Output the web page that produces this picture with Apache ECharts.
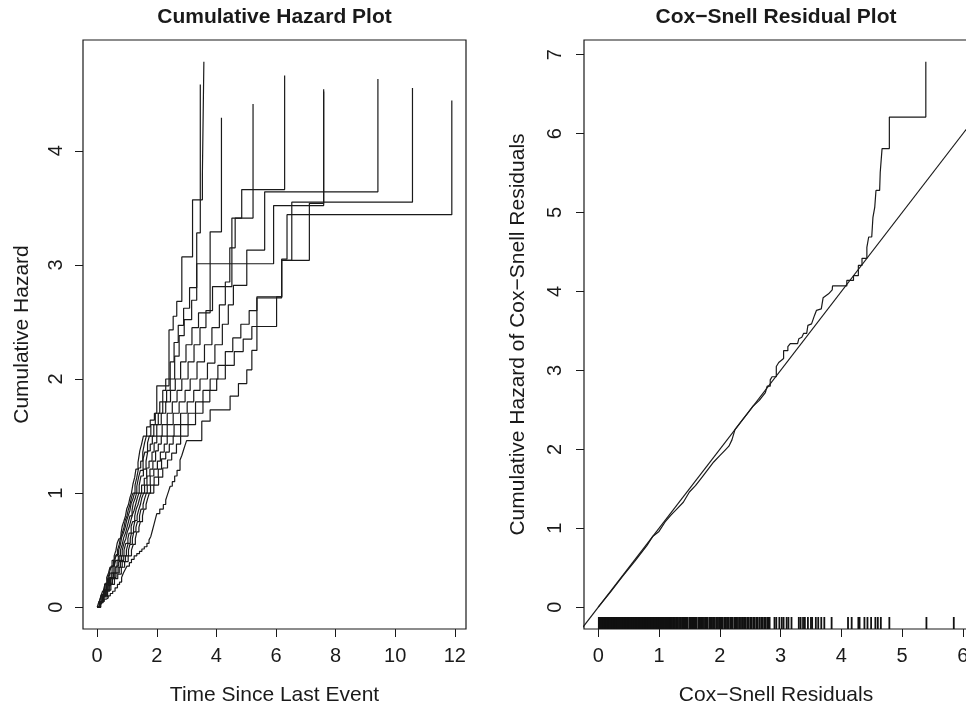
<!DOCTYPE html>
<html><head><meta charset="utf-8">
<script src="https://cdn.jsdelivr.net/npm/echarts@6/dist/echarts.min.js"></script>
<style>html,body{margin:0;padding:0;background:#fff}#c{width:966px;height:707px}</style>
</head><body><div id="c"></div>
<script>
// ---- tick labels ----
const hazXTicks = [0, 2, 4, 6, 8, 10, 12];
const hazYTicks = [0, 1, 2, 3, 4];
const csXTicks = [0, 1, 2, 3, 4, 5, 6];
const csYTicks = [0, 1, 2, 3, 4, 5, 6, 7];

// ---- left panel: cumulative hazard step curves [time, cumulative hazard] ----
const hazCurve1 = [[0,0],[0.06,0.05],[0.13,0.1],[0.18,0.14],[0.25,0.2],[0.32,0.26],[0.38,0.3],[0.43,0.35],[0.5,0.41],[0.57,0.45],[0.63,0.5],[0.67,0.56],[0.73,0.6],[0.8,0.65],[0.84,0.71],[0.89,0.75],[0.95,0.8],[0.99,0.86],[1.05,0.9],[1.1,0.96],[1.15,1.0],[1.2,1.08],[1.26,1.14],[1.3,1.21],[1.37,1.27],[1.43,1.37],[1.49,1.43],[1.55,1.5],[1.66,1.58],[1.78,1.64],[1.92,1.7],[2.0,1.94],[2.41,2.43],[2.55,2.55],[2.67,2.68],[2.84,3.07],[3.2,3.57],[3.53,3.79],[3.58,4.78]];
const hazCurve2 = [[0,0],[0.08,0.05],[0.14,0.11],[0.21,0.15],[0.29,0.2],[0.37,0.24],[0.43,0.3],[0.5,0.36],[0.58,0.4],[0.64,0.46],[0.72,0.5],[0.78,0.55],[0.82,0.61],[0.88,0.65],[0.94,0.7],[0.99,0.76],[1.04,0.8],[1.1,0.85],[1.14,0.91],[1.2,0.95],[1.25,1.0],[1.33,1.06],[1.39,1.14],[1.45,1.2],[1.54,1.3],[1.6,1.36],[1.69,1.44],[1.75,1.5],[1.9,1.6],[2.05,1.7],[2.2,1.8],[2.33,1.9],[2.45,2.0],[2.6,2.2],[2.75,2.38],[2.92,2.52],[3.17,2.69],[3.34,3.28],[3.46,4.58]];
const hazCurve3 = [[0,0],[0.07,0.05],[0.16,0.09],[0.24,0.15],[0.31,0.21],[0.38,0.25],[0.47,0.3],[0.56,0.35],[0.62,0.41],[0.71,0.45],[0.78,0.5],[0.84,0.55],[0.89,0.61],[0.95,0.65],[1.0,0.7],[1.06,0.76],[1.1,0.8],[1.17,0.85],[1.21,0.91],[1.27,0.95],[1.32,1.0],[1.41,1.07],[1.47,1.15],[1.55,1.21],[1.64,1.28],[1.7,1.37],[1.78,1.43],[1.85,1.5],[2.0,1.6],[2.15,1.7],[2.3,1.8],[2.46,1.9],[2.62,2.0],[2.8,2.15],[2.98,2.3],[3.18,2.45],[3.4,2.58],[3.79,3.29],[4.17,4.29]];
const hazCurve4 = [[0,0],[0.09,0.05],[0.17,0.1],[0.26,0.14],[0.34,0.2],[0.41,0.26],[0.5,0.3],[0.6,0.35],[0.67,0.41],[0.76,0.45],[0.84,0.5],[0.9,0.56],[0.96,0.6],[1.01,0.66],[1.07,0.7],[1.12,0.75],[1.18,0.81],[1.24,0.85],[1.29,0.9],[1.35,0.96],[1.4,1.0],[1.49,1.07],[1.58,1.13],[1.66,1.22],[1.74,1.28],[1.84,1.36],[1.91,1.44],[2.0,1.5],[2.18,1.6],[2.35,1.7],[2.52,1.8],[2.68,1.9],[2.84,2.0],[3.05,2.15],[3.25,2.3],[3.45,2.45],[3.65,2.6],[3.87,2.81],[4.52,3.41],[5.23,4.41]];
const hazCurve5 = [[0,0],[0.1,0.05],[0.18,0.1],[0.28,0.15],[0.36,0.19],[0.45,0.25],[0.55,0.3],[0.63,0.36],[0.72,0.4],[0.82,0.45],[0.9,0.5],[0.96,0.56],[1.03,0.6],[1.07,0.65],[1.14,0.71],[1.19,0.75],[1.26,0.8],[1.31,0.86],[1.37,0.9],[1.42,0.95],[1.48,1.0],[1.59,1.07],[1.67,1.15],[1.77,1.21],[1.87,1.28],[1.96,1.37],[2.05,1.43],[2.15,1.5],[2.35,1.6],[2.55,1.7],[2.75,1.8],[2.95,1.9],[3.12,2.0],[3.35,2.15],[3.6,2.3],[3.85,2.45],[4.1,2.65],[4.3,2.85],[4.45,3.15],[4.63,3.41],[4.85,3.66],[6.29,4.66]];
const hazCurve6 = [[0,0],[0.11,0.05],[0.21,0.1],[0.32,0.14],[0.42,0.2],[0.51,0.26],[0.63,0.3],[0.74,0.35],[0.84,0.4],[0.95,0.45],[1.05,0.5],[1.1,0.55],[1.18,0.6],[1.23,0.66],[1.3,0.7],[1.35,0.75],[1.42,0.8],[1.47,0.86],[1.54,0.9],[1.59,0.95],[1.65,1.0],[1.79,1.07],[1.91,1.14],[2.05,1.21],[2.16,1.3],[2.3,1.36],[2.42,1.43],[2.55,1.5],[2.8,1.6],[3.05,1.7],[3.3,1.8],[3.55,1.9],[3.79,2.0],[4.05,2.12],[4.3,2.24],[4.55,2.36],[4.82,2.48],[5.1,2.6],[5.36,2.72],[6.19,3.04],[7.12,3.54],[7.6,4.54]];
const hazCurve7 = [[0,0],[0.1,0.04],[0.2,0.1],[0.3,0.15],[0.39,0.21],[0.5,0.25],[0.59,0.3],[0.7,0.35],[0.78,0.41],[0.89,0.45],[0.98,0.5],[1.04,0.56],[1.11,0.6],[1.15,0.65],[1.22,0.7],[1.27,0.76],[1.34,0.8],[1.39,0.85],[1.45,0.9],[1.5,0.96],[1.56,1.0],[1.68,1.07],[1.78,1.15],[1.9,1.21],[2.02,1.28],[2.12,1.36],[2.25,1.43],[2.35,1.5],[2.58,1.6],[2.8,1.7],[3.02,1.8],[3.24,1.9],[3.45,2.0],[3.7,2.14],[3.95,2.3],[4.2,2.48],[4.4,2.65],[4.57,2.82],[5.02,3.13],[5.62,3.64],[9.42,4.63]];
const hazCurve8 = [[0,0],[0.12,0.05],[0.23,0.09],[0.35,0.15],[0.46,0.2],[0.58,0.25],[0.69,0.29],[0.81,0.35],[0.92,0.4],[1.04,0.45],[1.15,0.5],[1.21,0.55],[1.28,0.6],[1.33,0.66],[1.4,0.7],[1.45,0.75],[1.52,0.8],[1.57,0.86],[1.64,0.9],[1.69,0.95],[1.75,1.0],[1.9,1.07],[2.06,1.14],[2.2,1.22],[2.36,1.29],[2.5,1.35],[2.66,1.43],[2.8,1.5],[3.05,1.6],[3.3,1.7],[3.55,1.8],[3.78,1.9],[4.01,2.0],[4.3,2.12],[4.6,2.24],[4.9,2.35],[5.19,2.46],[6.02,2.72],[6.19,3.04],[6.53,3.55],[10.58,4.55]];
const hazCurve9 = [[0,0],[0.07,0.05],[0.13,0.1],[0.21,0.15],[0.27,0.21],[0.35,0.25],[0.41,0.3],[0.47,0.36],[0.55,0.4],[0.61,0.45],[0.68,0.5],[0.74,0.55],[0.78,0.61],[0.84,0.65],[0.9,0.7],[0.94,0.76],[1.0,0.8],[1.04,0.85],[1.1,0.9],[1.15,0.96],[1.2,1.0],[1.27,1.07],[1.33,1.14],[1.39,1.22],[1.46,1.28],[1.53,1.36],[1.59,1.44],[1.65,1.5],[1.8,1.6],[1.95,1.7],[2.1,1.8],[2.2,1.9],[2.3,2.0],[2.45,2.15],[2.58,2.32],[2.72,2.47],[2.9,2.62],[3.1,2.8],[3.34,3.01],[5.92,3.52],[7.6,4.52]];
const hazCurve10 = [[0,0],[0.08,0.03],[0.15,0.05],[0.23,0.07],[0.3,0.08],[0.37,0.1],[0.44,0.12],[0.52,0.14],[0.6,0.17],[0.68,0.2],[0.75,0.22],[0.82,0.26],[0.88,0.3],[0.94,0.33],[1.0,0.36],[1.08,0.39],[1.15,0.42],[1.24,0.45],[1.33,0.47],[1.42,0.49],[1.5,0.51],[1.58,0.53],[1.67,0.56],[1.74,0.59],[1.8,0.62],[1.85,0.67],[1.9,0.72],[1.95,0.77],[2.0,0.82],[2.1,0.86],[2.22,0.9],[2.3,0.94],[2.35,0.98],[2.4,1.02],[2.45,1.06],[2.52,1.1],[2.6,1.15],[2.68,1.2],[2.78,1.29],[2.84,1.33],[2.9,1.38],[2.95,1.42],[3.0,1.46],[3.51,1.63],[3.79,1.73],[4.46,1.85],[4.74,1.96],[5.02,2.08],[5.19,2.25],[5.36,2.71],[6.19,3.05],[6.37,3.44],[11.9,4.44]];
const hazCurves = [hazCurve1, hazCurve2, hazCurve3, hazCurve4, hazCurve5, hazCurve6, hazCurve7, hazCurve8, hazCurve9, hazCurve10];

// ---- right panel: cumulative hazard of Cox-Snell residuals [residual, cum. hazard] ----
const csCurve = [[0,0],[0.2,0.19],[0.4,0.39],[0.6,0.58],[0.8,0.78],[0.9,0.9],[1.0,0.96],[1.1,1.08],[1.2,1.17],[1.3,1.25],[1.4,1.33],[1.5,1.46],[1.6,1.54],[1.7,1.64],[1.8,1.74],[1.9,1.84],[2.0,1.92],[2.1,2.0],[2.15,2.04],[2.2,2.12],[2.25,2.25],[2.35,2.35],[2.45,2.45],[2.55,2.55],[2.65,2.62],[2.75,2.72],[2.78,2.72],[2.78,2.8],[2.83,2.8],[2.83,2.88],[2.86,2.92],[2.93,2.92],[2.93,3.05],[2.97,3.1],[3.0,3.12],[3.05,3.15],[3.05,3.25],[3.12,3.25],[3.12,3.3],[3.16,3.34],[3.28,3.34],[3.3,3.4],[3.35,3.42],[3.38,3.47],[3.43,3.47],[3.45,3.57],[3.51,3.59],[3.56,3.7],[3.59,3.76],[3.67,3.78],[3.7,3.92],[3.79,3.97],[3.85,4.02],[3.855,4.07],[4.09,4.07],[4.09,4.14],[4.2,4.14],[4.2,4.2],[4.28,4.2],[4.28,4.33],[4.34,4.33],[4.34,4.42],[4.42,4.42],[4.42,4.56],[4.45,4.56],[4.45,4.69],[4.5,4.69],[4.52,4.94],[4.54,4.94],[4.55,5.07],[4.57,5.28],[4.63,5.28],[4.64,5.51],[4.67,5.51],[4.67,5.81],[4.79,5.81],[4.79,6.21],[5.39,6.21],[5.39,6.91]];
const csRefLine = [[-1,-1],[8,8]];
const csRug = [0.01,0.02,0.03,0.04,0.05,0.06,0.07,0.08,0.09,0.1,0.11,0.12,0.13,0.14,0.15,0.16,0.17,0.18,0.19,0.2,0.21,0.22,0.23,0.24,0.25,0.26,0.27,0.28,0.29,0.3,0.31,0.32,0.33,0.34,0.35,0.36,0.37,0.38,0.39,0.4,0.41,0.42,0.43,0.44,0.45,0.46,0.47,0.48,0.49,0.5,0.51,0.52,0.53,0.54,0.55,0.56,0.57,0.58,0.59,0.6,0.61,0.62,0.63,0.64,0.65,0.66,0.67,0.68,0.69,0.7,0.71,0.72,0.73,0.74,0.75,0.76,0.77,0.78,0.79,0.8,0.81,0.82,0.83,0.84,0.85,0.86,0.87,0.88,0.89,0.9,0.91,0.92,0.93,0.94,0.95,0.96,0.97,0.98,0.99,1.0,1.01,1.02,1.035,1.05,1.06,1.075,1.09,1.1,1.115,1.13,1.14,1.155,1.17,1.18,1.195,
1.21,1.23,1.24,1.26,1.28,1.29,1.31,1.33,1.35,1.36,1.38,1.4,1.42,1.43,1.45,1.47,1.5,1.52,1.53,1.55,1.57,1.59,1.6,1.62,1.65,1.67,1.68,1.7,1.72,1.74,1.76,1.78,1.8,1.83,1.85,1.87,1.89,1.9,1.92,1.95,1.97,1.99,2.01,2.03,2.05,2.08,2.1,2.12,2.14,2.17,2.19,2.21,2.24,2.26,2.28,2.3,2.33,2.35,2.38,2.4,2.42,2.45,2.47,2.5,2.52,2.55,2.57,2.6,2.62,2.65,2.68,2.7,2.73,2.75,2.78,2.8,2.82,
2.9,2.93,2.98,3.02,3.05,3.1,3.13,3.18,3.3,3.33,3.37,3.4,3.45,3.5,3.52,3.58,3.62,3.67,3.72,3.84,4.11,4.17,4.28,4.3,4.38,4.43,4.49,4.56,4.6,4.65,4.79,5.4,5.85];

const FONT = "'Liberation Sans', Arial, Helvetica, sans-serif";
const INK = '#1a1a1a';
const csYMin = -0.276;

function xAx(gi, min, max, ticks, name) {
  return {
    type: 'value', gridIndex: gi, min: min, max: max,
    name: name, nameLocation: 'middle', nameGap: 56,
    nameTextStyle: { fontFamily: FONT, fontSize: 21, color: INK },
    axisLine: { show: false, onZero: false },
    splitLine: { show: false },
    axisTick: { show: true, inside: false, length: 8, customValues: ticks, lineStyle: { color: INK, width: 1 } },
    axisLabel: { customValues: ticks, margin: 17, fontFamily: FONT, fontSize: 20, color: INK }
  };
}
function yAx(gi, min, max, ticks, name, gap, lblMargin) {
  return {
    type: 'value', gridIndex: gi, min: min, max: max,
    name: name, nameLocation: 'middle', nameGap: gap, nameRotate: 90,
    nameTextStyle: { fontFamily: FONT, fontSize: 21, color: INK },
    axisLine: { show: false, onZero: false },
    splitLine: { show: false },
    axisTick: { show: true, inside: false, length: 8, customValues: ticks, lineStyle: { color: INK, width: 1 } },
    axisLabel: { customValues: ticks, rotate: 90, margin: lblMargin, fontFamily: FONT, fontSize: 20, color: INK }
  };
}

const series = hazCurves.map(function (c) {
  return { type: 'line', xAxisIndex: 0, yAxisIndex: 0, data: c, step: 'end', showSymbol: false,
           lineStyle: { color: INK, width: 1.2 }, silent: true, animation: false };
});
series.push({ type: 'line', xAxisIndex: 1, yAxisIndex: 1, data: csCurve, showSymbol: false,
  lineStyle: { color: INK, width: 1.2 }, silent: true, animation: false });
series.push({ type: 'line', xAxisIndex: 1, yAxisIndex: 1, data: csRefLine, showSymbol: false, clip: true,
  lineStyle: { color: INK, width: 1.1 }, silent: true, animation: false });
series.push({ type: 'scatter', xAxisIndex: 1, yAxisIndex: 1, clip: false,
  data: csRug.map(function (v) { return [v, csYMin]; }),
  symbol: 'rect', symbolSize: [1.8, 12], symbolOffset: [0, -6],
  itemStyle: { color: '#111', opacity: 1 }, silent: true, animation: false });

const chart = echarts.init(document.getElementById('c'), null, { renderer: 'canvas' });
chart.setOption({
  backgroundColor: '#fff',
  animation: false,
  grid: [
    { left: 83, top: 40, width: 383, height: 589, outerBoundsMode: 'none', containLabel: false, show: true, borderColor: INK, borderWidth: 1.2, backgroundColor: 'transparent' },
    { left: 584, top: 40, width: 384, height: 589, outerBoundsMode: 'none', containLabel: false, show: true, borderColor: INK, borderWidth: 1.2, backgroundColor: 'transparent' }
  ],
  xAxis: [
    xAx(0, -0.476, 12.376, hazXTicks, 'Time Since Last Event'),
    xAx(1, -0.234, 6.084, csXTicks, 'Cox\u2212Snell Residuals')
  ],
  yAxis: [
    yAx(0, -0.191, 4.971, hazYTicks, 'Cumulative Hazard', 50, 17),
    yAx(1, csYMin, 7.186, csYTicks, 'Cumulative Hazard of Cox\u2212Snell Residuals', 55, 19)
  ],
  graphic: [
    { type: 'text', x: 274.5, y: 17, style: { text: 'Cumulative Hazard Plot', font: 'bold 21px ' + FONT, fill: INK, textAlign: 'center', textVerticalAlign: 'middle' } },
    { type: 'text', x: 776, y: 17, style: { text: 'Cox\u2212Snell Residual Plot', font: 'bold 21px ' + FONT, fill: INK, textAlign: 'center', textVerticalAlign: 'middle' } }
  ],
  series: series
});
</script>
</body></html>
